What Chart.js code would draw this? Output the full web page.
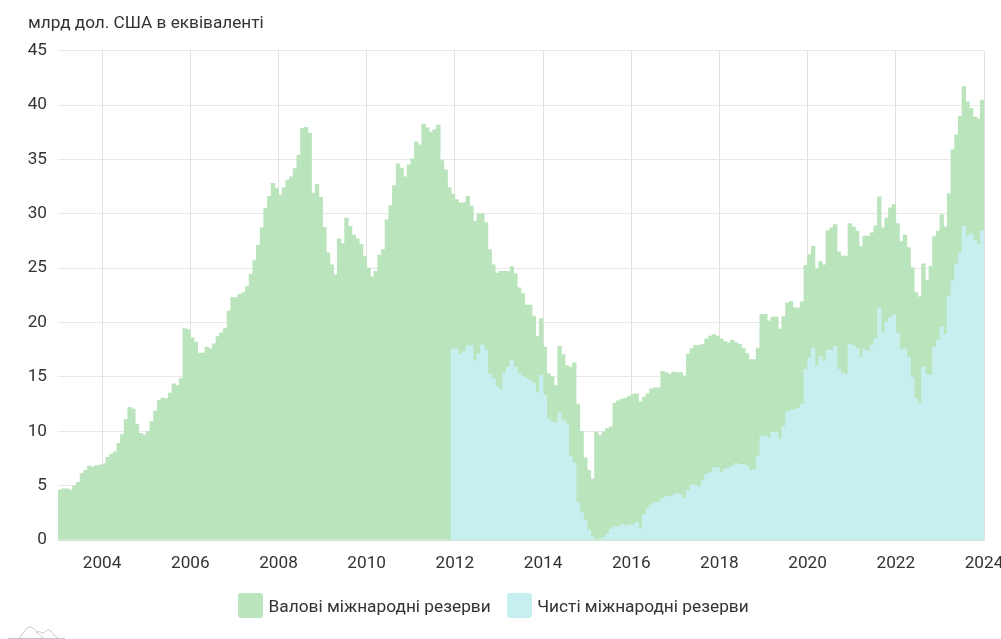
<!DOCTYPE html>
<html lang="uk">
<head>
<meta charset="utf-8">
<title>Міжнародні резерви</title>
<script src="https://cdn.jsdelivr.net/npm/chart.js@4"></script>
<style>
  html, body { margin: 0; padding: 0; background: #fff; overflow: hidden; }
  #wrap { position: relative; width: 1001px; height: 639px; overflow: hidden; }
  #logo { position: absolute; left: 0; top: 620px; }
  #legend { position: absolute; left: 238px; top: 593px; height: 25px; display: flex; align-items: center; gap: 16px;
    font: 17.3px Roboto, sans-serif; color: #333; white-space: nowrap; }
  #legend .item { display: flex; align-items: center; gap: 5.5px; }
  #legend .box { width: 25px; height: 25px; border-radius: 3px; }
</style>
</head>
<body>
<div id="wrap">
  <canvas id="reservesChart" width="1001" height="639"></canvas>
  <div id="legend"></div>
  <svg id="logo" width="80" height="19" fill="none" stroke="#c4c4c4" stroke-width="1">
    <path d="M8 18.5H65"/>
    <path d="M19 18.5C24 13 26 7 30 7C34 7 38 15 44 18.5"/>
    <path d="M36 13C39 10 41 13 43 13C45 13 47 9 49 10C52 11 54 16 58 18.5"/>
  </svg>
</div>
<script>
const FIRST_YEAR = 2003;
const yearTicks = [2004, 2006, 2008, 2010, 2012, 2014, 2016, 2018, 2020, 2022, 2024];
const valueTicks = [0, 5, 10, 15, 20, 25, 30, 35, 40, 45];
const unitLabel = 'млрд дол. США в еквіваленті';
const grossLabel = 'Валові міжнародні резерви';
const netLabel = 'Чисті міжнародні резерви';

// monthly, Jan 2003 - Dec 2023
const gross = [
  4.6, 4.7, 4.7, 4.6, 5.0, 5.3, 6.1, 6.4, 6.8, 6.7, 6.85, 6.9,
  7.0, 7.6, 7.9, 8.1, 8.9, 9.7, 11.1, 12.2, 12.05, 10.65, 9.8, 9.65,
  10.0, 10.9, 11.85, 12.85, 13.05, 13.0, 13.5, 14.35, 14.2, 14.85, 19.45, 19.35,
  18.6, 18.2, 17.2, 17.2, 17.75, 17.6, 18.05, 18.7, 19.05, 19.45, 21.05, 22.3,
  22.3, 22.6, 22.75, 23.3, 24.45, 25.7, 27.1, 28.7, 30.5, 31.6, 32.8, 32.35,
  31.75, 32.4, 33.1, 33.4, 34.15, 35.4, 37.85, 37.95, 37.4, 31.9, 32.7, 31.5,
  28.75, 26.4, 25.3, 24.4, 27.7, 27.25, 29.6, 28.85, 28.05, 27.7, 27.2, 26.1,
  25.0, 24.2, 24.7, 26.2, 26.7, 29.45, 30.75, 32.6, 34.6, 34.2, 33.4, 34.5,
  35.05, 36.6, 36.35, 38.25, 37.9, 37.5, 37.75, 38.15, 34.9, 34.05, 32.4, 31.8,
  31.3, 31.0, 31.0, 31.6, 30.7, 29.3, 30.0, 30.0, 29.2, 26.7, 25.3, 24.55,
  24.7, 24.7, 24.7, 25.15, 24.5, 23.2, 22.65, 21.6, 21.6, 20.6, 18.75, 20.35,
  17.75, 15.3, 15.0, 14.2, 17.8, 17.05, 16.05, 15.9, 16.3, 12.5, 10.0, 7.55,
  6.4, 5.6, 9.95, 9.6, 9.95, 10.25, 10.4, 12.6, 12.8, 12.95, 13.05, 13.2,
  13.4, 13.45, 12.7, 13.15, 13.45, 13.9, 14.0, 14.0, 15.5, 15.4, 15.25, 15.45,
  15.4, 15.4, 15.1, 17.1, 17.6, 17.9, 17.9, 18.0, 18.5, 18.75, 18.9, 18.75,
  18.5, 18.25, 18.1, 18.35, 18.15, 18.0, 17.65, 17.15, 16.6, 16.6, 17.65, 20.75,
  20.75, 20.15, 20.5, 20.5, 19.4, 20.55, 21.8, 21.95, 21.35, 21.35, 21.9, 25.25,
  26.25, 27.0, 24.95, 25.6, 25.3, 28.45, 28.7, 29.0, 26.5, 26.1, 26.1, 29.1,
  28.8, 28.4, 27.0, 27.95, 27.95, 28.25, 28.9, 31.55, 28.7, 29.6, 30.55, 30.85,
  29.1, 27.45, 28.05, 26.9, 25.05, 22.75, 22.35, 25.4, 23.9, 25.2, 27.9, 28.4,
  29.9, 28.8, 31.85, 35.9, 37.25, 38.95, 41.7, 40.3, 39.7, 38.9, 38.7, 40.45,
];

// net series starts in Dec 2011
const netStart = 107;
const net = [
  17.55,
  17.55, 17.1, 17.3, 17.85, 17.85, 16.45, 17.15, 17.95, 17.45, 15.25, 14.85, 14.1,
  13.8, 15.35, 15.9, 16.5, 15.9, 15.3, 15.05, 14.85, 14.65, 14.4, 13.55, 15.15,
  13.3, 11.15, 10.85, 10.75, 11.7, 11.0, 10.7, 7.7, 7.05, 3.45, 2.5, 1.85,
  0.9, 0.3, 0.0, 0.0, 0.25, 0.55, 1.0, 1.2, 1.2, 1.45, 1.3, 1.4,
  1.4, 1.6, 1.0, 2.3, 2.9, 3.2, 3.45, 3.45, 3.8, 4.0, 4.0, 4.15,
  4.3, 4.15, 3.8, 4.6, 5.05, 5.05, 4.9, 5.5, 6.05, 6.2, 6.65, 6.65,
  6.2, 6.5, 6.6, 6.75, 7.05, 6.95, 6.95, 6.8, 6.35, 6.5, 7.7, 9.5,
  9.55, 9.35, 9.9, 9.9, 9.25, 10.45, 11.8, 11.95, 11.95, 12.1, 12.5, 15.7,
  16.75, 17.65, 16.05, 16.85, 16.45, 17.45, 17.45, 17.8, 15.7, 15.35, 15.2, 18.05,
  17.9, 17.6, 16.75, 17.5, 17.35, 17.9, 18.5, 21.35, 19.05, 20.05, 20.45, 20.7,
  19.0, 17.55, 17.55, 16.8, 14.95, 13.0, 12.6, 15.9, 15.2, 15.2, 17.75, 18.35,
  19.6, 18.9, 22.35, 23.8, 25.4, 26.4, 28.85, 27.95, 28.15, 27.55, 27.2, 28.4,
];

// bar centres in decimal years, so each bar fills its month after the tick
const months = gross.map((_, i) => FIRST_YEAR + (i + 0.5) / 12);

const FONT = { family: 'Roboto', size: 17.2 };
const TEXT = '#333333';
const GREEN = '#bae5bc';
const CYAN = '#c7eff0';

const chart = new Chart(document.getElementById('reservesChart'), {
  type: 'bar',
  data: {
    labels: months,
    datasets: [
      { label: grossLabel, data: gross, backgroundColor: GREEN, grouped: false, order: 2,
        barPercentage: 1, categoryPercentage: 1 },
      { label: netLabel, data: Array(netStart).fill(null).concat(net), backgroundColor: CYAN, grouped: false, order: 1,
        barPercentage: 1, categoryPercentage: 1 },
    ],
  },
  options: {
    responsive: false,
    animation: false,
    layout: { padding: { left: 28, right: 17, top: 0, bottom: 56 } },
    plugins: {
      tooltip: { enabled: false },
      legend: { display: false },
      title: {
        display: true,
        text: unitLabel,
        align: 'start',
        color: TEXT,
        font: { ...FONT, weight: 'normal' },
        padding: { top: 13, bottom: 17 },
      },
    },
    scales: {
      x: {
        type: 'linear',
        offset: false,
        min: FIRST_YEAR,
        max: 2024,
        afterBuildTicks: scale => { scale.ticks = yearTicks.map(value => ({ value })); },
        afterFit: scale => { scale.paddingRight = 0; scale.paddingLeft = 0; scale.height = 43; },
        grid: { offset: false, color: '#e0e0e0', drawTicks: false, tickLength: 0 },
        border: { color: '#cfe3d2' },
        ticks: {
          color: TEXT,
          font: FONT,
          padding: 13,
          maxRotation: 0,
          autoSkip: false,
          callback: value => String(value),
        },
      },
      y: {
        min: 0,
        max: 45,
        afterBuildTicks: scale => { scale.ticks = valueTicks.map(value => ({ value })); },
        afterFit: scale => { scale.width = 30; },
        grid: { color: '#e8e8e8', drawTicks: false, tickLength: 0 },
        border: { display: false },
        ticks: { color: TEXT, font: FONT, padding: 11 },
      },
    },
  },
});

// legend sits off-centre in the original, so it's plain html
document.getElementById('legend').innerHTML = chart.data.datasets.map(ds => `
  <div class="item"><span class="box" style="background:${ds.backgroundColor}"></span><span>${ds.label}</span></div>
`).join('');
</script>
</body>
</html>
